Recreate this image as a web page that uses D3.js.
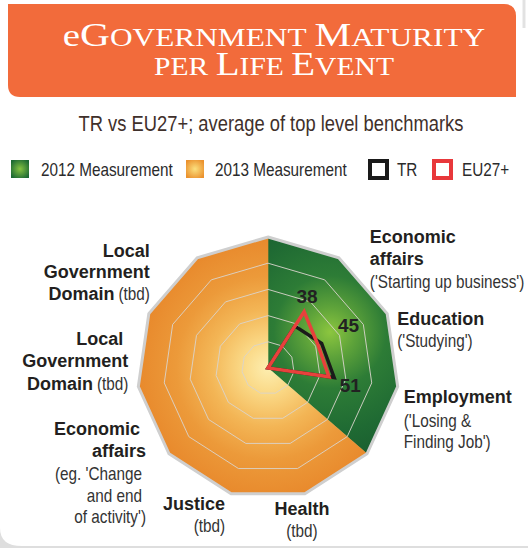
<!DOCTYPE html>
<html><head><meta charset="utf-8">
<script src="https://cdn.jsdelivr.net/npm/d3@7"></script>
<style>html,body{margin:0;padding:0;background:#fff;} svg{display:block;}</style>
</head><body>
<svg id="chart" width="528" height="548"></svg>
<script>
// ---------- DATA ----------
const categories = ["", "Economic affairs", "Education", "Employment", "", "Health", "Justice", "Economic affairs", "Local Government Domain", "Local Government Domain", ""];
const titleLines = [[], ["Economic","affairs"], ["Education"], ["Employment"], [], ["Health"], ["Justice"], ["Economic","affairs"], ["Local","Government","Domain"], ["Local","Government","Domain"], []];
const noteLines  = [[], ["('Starting up business')"], ["('Studying')"], ["('Losing &","Finding Job')"], [], ["(tbd)"], ["(tbd)"], ["(eg. 'Change","and end","of activity')"], ["(tbd)"], ["(tbd)"], []];
const sectorMeasurement = ["2012","2012","2012","2012","2013","2013","2013","2013","2013","2013","2013"];
const trValues = [0, 38, 45, 51, 0, 0, 0, 0, 0, 0, 0];
const euValues = [0, 51, 42, 47, 0, 0, 0, 0, 0, 0, 0];
const valueLabels = [null, 38, 45, 51, null, null, null, null, null, null, null];
const gridTicks = [20, 40, 60, 80];
const maxValue = 100;
const legendLabels = ["2012 Measurement", "2013 Measurement", "TR", "EU27+"];
const titleText = ["eGovernment Maturity", "per Life Event"];
const subtitleText = "TR vs EU27+; average of top level benchmarks";

// ---------- LAYOUT ----------
const W = 528, H = 548;
const cx = 268, cy = 368, R = 131;
const svg = d3.select("#chart");
const defs = svg.append("defs");
const sans = "'Liberation Sans',Arial,Helvetica,sans-serif";
const SX = 0.85; // horizontal condensing for the "condensed" face

function narrowText(parent, x, y, anchor, str, size, fill) {
  const gg = parent.append("g").attr("transform", `translate(${x},${y}) scale(${SX},1)`);
  return gg.append("text").attr("x", 0).attr("y", 0).attr("text-anchor", anchor)
    .attr("font-family", sans).attr("font-size", size).attr("fill", fill).text(str);
}
// text scaled horizontally to a target width (measured)
function fitText(x, y, width, build) {
  const gg = svg.append("g");
  const t = gg.append("text").attr("x", 0).attr("y", 0).attr("text-anchor", "middle");
  build(t);
  const w = t.node().getComputedTextLength();
  gg.attr("transform", `translate(${x},${y}) scale(${width / w},1)`);
  return t;
}

// background panel
svg.append("rect").attr("width", W).attr("height", H).attr("fill", "#dedede");
svg.append("path").attr("d", `M0,0 H${W} V546 H22 Q0,546 0,528 Z`).attr("fill", "#fff");
svg.append("line").attr("x1", 524).attr("x2", 524).attr("y1", 0).attr("y2", 28)
  .attr("stroke", "#e2e2e2").attr("stroke-width", 3);

// title box
const bx0 = 8, bx1 = 516, by0 = 4, by1 = 97, br = 12;
svg.append("path")
  .attr("d", `M${bx0},${by0} H${bx1-br} Q${bx1},${by0} ${bx1},${by0+br} V${by1} H${bx0+br} Q${bx0},${by1} ${bx0},${by1-br} Z`)
  .attr("fill", "#f26b3b");

function smallCaps(textSel, str, bigSize, smallSize) {
  str.split(" ").forEach((word, wi) => {
    if (wi > 0) textSel.append("tspan").attr("font-size", smallSize).text(" ");
    let rest = word;
    if (word[0] === "e" && word.length > 1 && word[1] === word[1].toUpperCase()) {
      textSel.append("tspan").attr("font-size", 31).text("e");
      rest = word.slice(1);
    }
    const first = rest[0];
    if (first === first.toUpperCase()) {
      textSel.append("tspan").attr("font-size", bigSize).text(first);
      textSel.append("tspan").attr("font-size", smallSize).text(rest.slice(1).toUpperCase());
    } else {
      textSel.append("tspan").attr("font-size", smallSize).text(rest.toUpperCase());
    }
  });
}
const titleY = [46, 75], titleW = [422, 240];
titleText.forEach((t, i) => {
  fitText(274, titleY[i], titleW[i], tx => {
    tx.attr("fill", "#fff").attr("font-family", "'Liberation Serif','DejaVu Serif',serif");
    smallCaps(tx, t, 33, 25);
  });
});

// subtitle
fitText(271, 131, 385, tx => {
  tx.attr("font-family", sans).attr("font-size", 22).attr("fill", "#3f302b").text(subtitleText);
});

// gradients
function radial(id, cxp, cyp, r, stops, units) {
  const gr = defs.append("radialGradient").attr("id", id);
  if (units) gr.attr("gradientUnits", "userSpaceOnUse");
  gr.attr("cx", cxp).attr("cy", cyp).attr("r", r);
  stops.forEach(s => gr.append("stop").attr("offset", s[0]).attr("stop-color", s[1]));
}
radial("g2012", 62, -36, 125, [[0, "#8cc63f"], [0.2, "#5ea33a"], [0.45, "#2d7c36"], [0.8, "#1f6a33"], [1, "#1b6030"]], true);
radial("g2013", 0, 0, R, [[0, "#fdeeb0"], [0.2, "#fad885"], [0.45, "#f3b555"], [0.7, "#ec9a3a"], [1, "#e8892c"]], true);
radial("l2012", "50%", "50%", "60%", [[0, "#86c342"], [1, "#1e6a33"]], false);
radial("l2013", "50%", "50%", "60%", [[0, "#fbe07e"], [1, "#eb922e"]], false);

// legend
const legendSquareX = [11, 186, 370, 434];
const legendTextX = [41, 215, 397, 462];
legendLabels.forEach((lab, i) => {
  if (i < 2) {
    svg.append("rect").attr("x", legendSquareX[i]).attr("y", 160).attr("width", 18).attr("height", 18)
      .attr("fill", i === 0 ? "url(#l2012)" : "url(#l2013)");
  } else {
    svg.append("rect").attr("x", legendSquareX[i]).attr("y", 161).attr("width", 17).attr("height", 17)
      .attr("fill", "#fff").attr("stroke", i === 2 ? "#1a1a1a" : "#e8383b").attr("stroke-width", 4);
  }
  narrowText(svg, legendTextX[i], 175.5, "start", lab, 18, "#2b2b2b");
});

// ---------- RADAR ----------
const n = categories.length;
const angle = d3.scaleLinear().domain([0, n]).range([0, 2 * Math.PI]);
const rScale = d3.scaleLinear().domain([0, maxValue]).range([0, R]);
const g = svg.append("g").attr("transform", `translate(${cx},${cy})`);
const pt = (i, v) => [Math.sin(angle(i)) * rScale(v), -Math.cos(angle(i)) * rScale(v)];

let runs = [];
sectorMeasurement.forEach((m, i) => {
  if (runs.length && runs[runs.length - 1].m === m) runs[runs.length - 1].end = i + 1;
  else runs.push({ m, start: i, end: i + 1 });
});
runs.forEach(run => {
  const pts = [[0, 0]];
  for (let i = run.start; i <= run.end; i++) pts.push(pt(i % n, maxValue));
  const f = run.m === "2012" ? "url(#g2012)" : "url(#g2013)";
  g.append("path").attr("d", d3.line()(pts) + "Z").attr("fill", f).attr("stroke", f).attr("stroke-width", 0.6);
});

const radial0 = d3.lineRadial().angle((d, i) => angle(i)).radius(d => rScale(d)).curve(d3.curveLinearClosed);
gridTicks.forEach(t => {
  g.append("path").attr("d", radial0(d3.range(n).map(() => t)))
    .attr("fill", "none").attr("stroke", "#d9d4cc").attr("stroke-opacity", 0.9).attr("stroke-width", 1);
});
g.append("path").attr("d", radial0(d3.range(n).map(() => maxValue)))
  .attr("fill", "none").attr("stroke", "#cfcfcf").attr("stroke-width", 3).attr("stroke-linejoin", "miter");

g.append("path").attr("d", radial0(trValues)).attr("fill", "none")
  .attr("stroke", "#1a1a1a").attr("stroke-width", 3.5).attr("stroke-linejoin", "miter");
g.append("path").attr("d", radial0(euValues)).attr("fill", "none")
  .attr("stroke", "#e8413c").attr("stroke-width", 3.5).attr("stroke-linejoin", "miter");

const valueNudge = { 1: [-7, 0], 2: [3, -7], 3: [-2, 5] };
valueLabels.forEach((v, i) => {
  if (v == null) return;
  const p = pt(i, 65);
  g.append("text").attr("x", p[0] + valueNudge[i][0]).attr("y", p[1] + valueNudge[i][1])
    .attr("text-anchor", "middle").attr("dominant-baseline", "central")
    .attr("font-family", sans).attr("font-weight", "bold").attr("font-size", 19).attr("fill", "#222")
    .text(v);
});

const labelLayout = {
  1: { anchor: "start", dx: [31, 31, 31], dy: [-15, 7, 30] },
  2: { anchor: "start", dx: [10, 10], dy: [11, 33] },
  3: { anchor: "start", dx: [6, 6, 6], dy: [16, 40, 61] },
  5: { anchor: "middle", dx: [-3, -3], dy: [21, 43] },
  6: { anchor: "end", dx: [-6, -6], dy: [16, 38] },
  7: { anchor: "end", dx: [-29, -23, -27, -27, -23], dy: [-19, 3, 26, 48, 69] },
  8: { anchor: "end", dx: [-15, -10, -10], dy: [-42, -20, 3], inline: true },
  9: { anchor: "end", dx: [1, 1, 1], dy: [-57, -36, -14], inline: true }
};
function boldText(x, y, anchor, str) {
  return g.append("text").attr("x", x).attr("y", y).attr("text-anchor", anchor)
    .attr("font-family", sans).attr("font-weight", "bold").attr("font-size", 18).attr("fill", "#231f20").text(str);
}
categories.forEach((c, i) => {
  const L = labelLayout[i];
  if (!c || !L) return;
  const v = pt(i, maxValue);
  let li = 0;
  titleLines[i].forEach((t, ti) => {
    const x = v[0] + L.dx[li], y = v[1] + L.dy[li];
    if (L.inline && ti === titleLines[i].length - 1) {
      const note = narrowText(g, x, y, "end", noteLines[i][0], 18, "#333");
      const w = note.node().getComputedTextLength() * SX;
      boldText(x - w - 4, y, "end", t);
    } else {
      boldText(x, y, L.anchor, t);
    }
    li++;
  });
  if (!L.inline) {
    noteLines[i].forEach(t => {
      narrowText(g, v[0] + L.dx[li], v[1] + L.dy[li], L.anchor, t, 18, "#333");
      li++;
    });
  }
});
</script>
</body></html>
